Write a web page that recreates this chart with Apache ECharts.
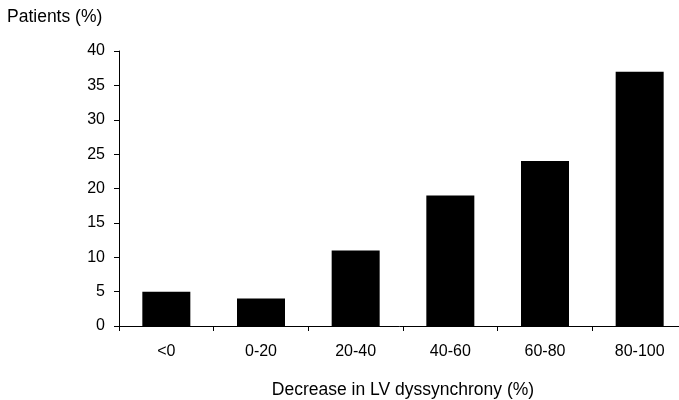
<!DOCTYPE html>
<html>
<head>
<meta charset="utf-8">
<script src="https://cdn.jsdelivr.net/npm/echarts@6/dist/echarts.min.js"></script>
<style>html,body{margin:0;padding:0;background:#fff;}#c{width:679px;height:400px;}</style>
</head>
<body>
<div id="c"></div>
<script>
const categories = ['<0', '0-20', '20-40', '40-60', '60-80', '80-100'];
const patients = [5, 4, 11, 19, 24, 37];
const yTicks = [0, 5, 10, 15, 20, 25, 30, 35, 40];
const xTitle = 'Decrease in LV dyssynchrony (%)';
const yTitle = 'Patients (%)';

const chart = echarts.init(document.getElementById('c'), null, {renderer: 'canvas'});
const font = 'Liberation Sans, Arial, sans-serif';
chart.setOption({
  animation: false,
  backgroundColor: '#fff',
  textStyle: {fontFamily: font},
  grid: {left: 119, right: -8, top: 51, bottom: 74, outerBoundsMode: 'none', containLabel: false},
  graphic: [{
    type: 'text', left: 7, top: 8,
    style: {text: yTitle, fill: '#000', font: '17.5px ' + font}
  }],
  xAxis: {
    type: 'category',
    data: categories,
    name: xTitle,
    nameLocation: 'middle',
    nameGap: 55,
    nameTextStyle: {fontSize: 17.5, color: '#000', fontFamily: font},
    axisLine: {lineStyle: {color: '#000', width: 1}},
    axisTick: {show: true, length: 5, alignWithLabel: false, lineStyle: {color: '#000'}},
    axisLabel: {fontSize: 16, color: '#000', margin: 18, fontFamily: font}
  },
  yAxis: {
    type: 'value',
    min: yTicks[0],
    max: yTicks[yTicks.length - 1],
    interval: 5,
    axisLine: {show: true, lineStyle: {color: '#000', width: 1}},
    axisTick: {show: true, length: 5, lineStyle: {color: '#000'}},
    axisLabel: {fontSize: 16, color: '#000', margin: 14, fontFamily: font},
    splitLine: {show: false}
  },
  series: [{
    type: 'bar',
    data: patients,
    barWidth: 48,
    itemStyle: {color: '#000'}
  }]
});
</script>
</body>
</html>
